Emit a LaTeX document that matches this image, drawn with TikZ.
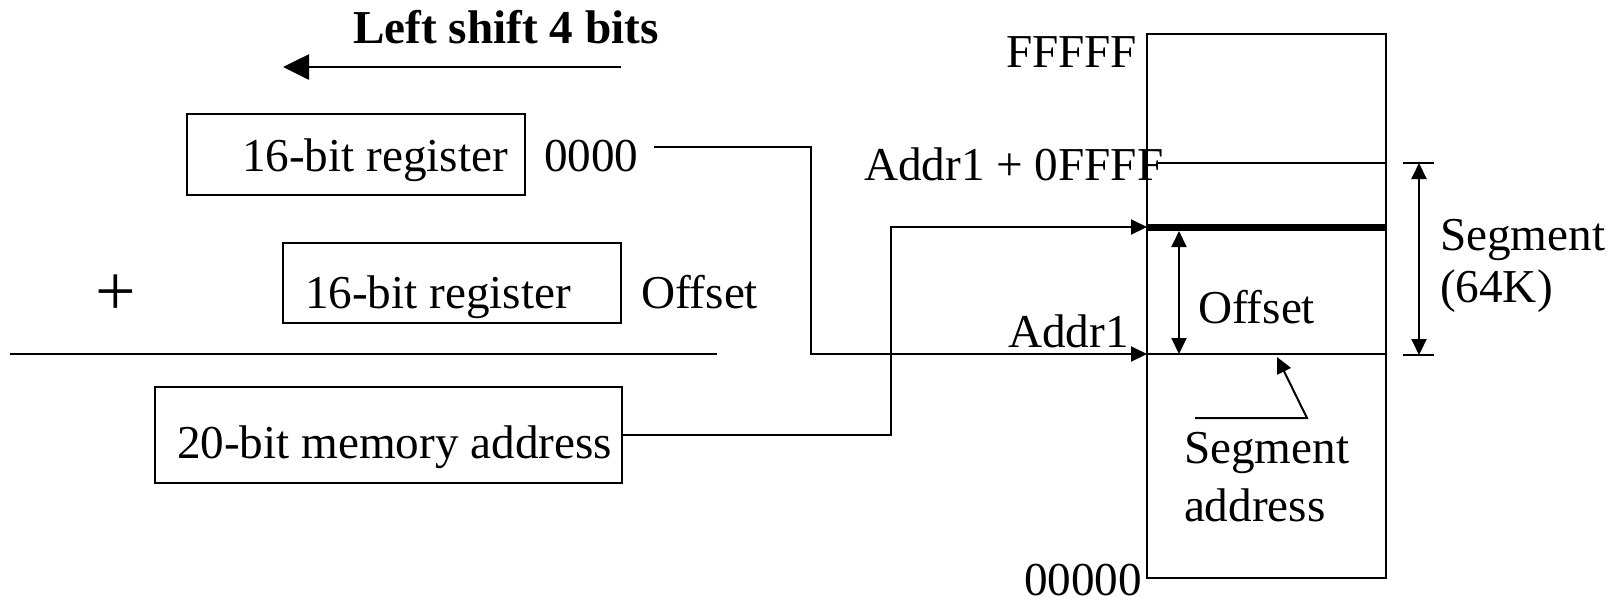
\documentclass[tikz,border=0pt]{standalone}
\usepackage{fontspec}
\setmainfont{Liberation Serif}
\usetikzlibrary{arrows.meta}
\begin{document}
\begin{tikzpicture}[x=0.5pt,y=-0.5pt,line width=1pt,
  txt/.style={anchor=base west,inner sep=0pt,font=\fontsize{23.6}{24}\selectfont},
  regbox/.style={draw,line width=1pt,inner sep=0pt},
  tip/.style={-{Triangle[length=8pt,width=7.5pt]}},
  dbl/.style={{Triangle[length=8pt,width=7.5pt]}-{Triangle[length=8pt,width=7.5pt]}}]
\useasboundingbox (0,0) rectangle (1623,602);

% shift direction
\node[txt,font=\fontsize{23.6}{24}\selectfont\bfseries] (shtxt) at (352,43) {Left shift 4 bits};
\coordinate (shA) at (621,67);
\coordinate (shB) at (283,67);
\draw[line width=1.35pt,-{Triangle[length=13pt,width=12.5pt]}] (shA) -- (shB);

% segment register shifted left
\node[regbox,minimum width=169pt,minimum height=40.5pt] (seg) at (356,154.5) {};
\node[txt] (segtxt) at (241,171) {16-bit register};
\node[txt] (zeros) at (543,171) {0000};

% offset register
\node[inner sep=0pt,font=\fontsize{36}{36}\selectfont] (plus) at (116,295) {+};
\node[regbox,minimum width=169pt,minimum height=40pt] (off) at (452,283) {};
\node[txt] (offtxt) at (304,308) {16-bit register};
\node[txt] (offlbl) at (640,308) {Offset};

% sum line
\coordinate (sumL) at (10,354);
\coordinate (sumR) at (717,354);
\draw (sumL) -- (sumR);

% resulting physical address
\node[regbox,minimum width=233.5pt,minimum height=48pt] (phys) at (388.5,435) {};
\node[txt] (phystxt) at (176,458) {20-bit memory address};

% memory map
\node[regbox,minimum width=119.5pt,minimum height=272pt] (mem) at (1266.5,306) {};
\node[txt] (top) at (1005,67) {FFFFF};
\node[txt] (lim) at (863,180) {Addr1 + 0FFFF};
\node[txt] (base) at (1007,347) {Addr1};
\node[txt] (bot) at (1023,595) {00000};

\coordinate (limL) at (1158,163);
\coordinate (limR) at (1386,163);
\coordinate (curL) at (1147,227);
\coordinate (curR) at (1386,227);
\coordinate (baseL) at (1147,354);
\coordinate (baseR) at (1386,354);
\draw (limL) -- (limR);
\draw[line width=3.5pt] (curL) -- (curR);
\draw (baseL) -- (baseR);

% connectors into the memory map
\coordinate (z0) at (654,147);
\draw[tip] (z0) -| (811,354) -- (baseL);
\draw[tip] (phys.east) -| (891,227) -- (curL);

% offset span
\coordinate (ofA) at (1179,231);
\coordinate (ofB) at (1179,354);
\draw[dbl] (ofA) -- (ofB);
\node[txt] (oftxt) at (1197,323) {Offset};

% segment span
\coordinate (sgA) at (1419,163);
\coordinate (sgB) at (1419,355);
\draw (1403,163) -- (1434,163);
\draw (1403,355) -- (1434,355);
\draw[dbl] (sgA) -- (sgB);
\node[txt] (sgtxt1) at (1439,250) {Segment};
\node[txt] (sgtxt2) at (1439,302) {(64K)};

% segment address pointer
\coordinate (pA) at (1195,418);
\coordinate (pB) at (1307,418);
\coordinate (pC) at (1277,357);
\draw[tip] (pA) -- (pB) -- (pC);
\node[txt] (satxt1) at (1183,463) {Segment};
\node[txt] (satxt2) at (1183,521) {address};
\end{tikzpicture}
\end{document}
